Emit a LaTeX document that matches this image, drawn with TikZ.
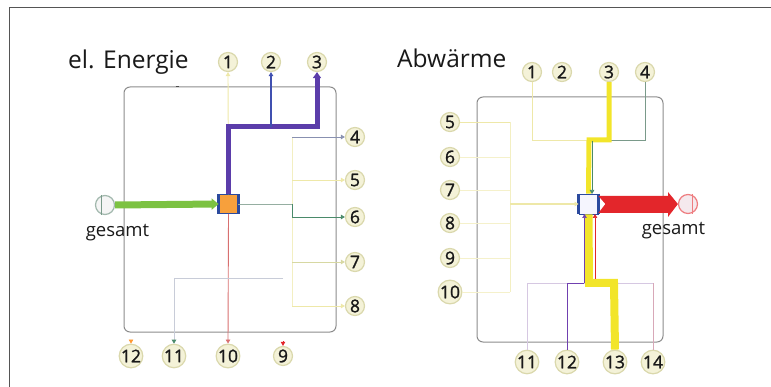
\documentclass[tikz,border=0pt]{standalone}
\usepackage{fontspec}
\setmainfont{Open Sans}
\newfontfamily\numfont[FakeBold=1.3]{Open Sans}
\usetikzlibrary{arrows.meta}

\definecolor{framegrey}{HTML}{555555}
\definecolor{boxgrey}{HTML}{8C8C8C}
\definecolor{circfill}{HTML}{F4F2D8}
\definecolor{circring}{HTML}{DAD8AC}
\definecolor{feedgreen}{HTML}{7CC242}
\definecolor{elpurple}{HTML}{5B3DAA}
\definecolor{elblue}{HTML}{4050B0}
\definecolor{sqorange}{HTML}{F7A03C}
\definecolor{sqblue}{HTML}{2B4A9E}
\definecolor{heatred}{HTML}{E3262B}
\definecolor{heatyellow}{HTML}{F2E52A}
\definecolor{paleyellow}{HTML}{EEE8A8}
\definecolor{greygreen}{HTML}{7A9A8A}
\definecolor{darkgreen}{HTML}{4A8A6A}
\definecolor{thinred}{HTML}{D87070}
\definecolor{lavender}{HTML}{D6C8E2}
\definecolor{pinkline}{HTML}{D8A8B8}
\definecolor{violet}{HTML}{7040B0}
\definecolor{greyblue}{HTML}{8890B0}
\definecolor{faint}{HTML}{C8CCD8}

\tikzset{
  num/.style={circle, minimum size=19pt, inner sep=0pt, fill=circfill, draw=circring,
    line width=1.2pt, font=\numfont\fontsize{17.5}{17.5}\selectfont, text=black!90},
  title/.style={font=\fontsize{24.5}{25}\selectfont, text=black!90, inner sep=0pt},
  caption/.style={font=\fontsize{18.5}{19}\selectfont, text=black!90, inner sep=0pt},
  sysbox/.style={draw=boxgrey, line width=1pt, rounded corners=6pt},
  tip/.style={-{Triangle[length=4pt,width=4.5pt]}},
  thin/.style={line width=0.9pt},
}

\begin{document}
\begin{tikzpicture}[x=1pt, y=-1pt]
\useasboundingbox (0,0) rectangle (771,387);

% page frame (top and left edges)
\draw[framegrey, line width=1.5pt] (9.5,387) -- (9.5,7.5) -- (771,7.5);

% ================= el. Energie =================
\node[title, anchor=base west] at (68,69) {el. Energie};
\draw[sysbox] (124,87) rectangle (336,332);
\draw[black!70, line width=1pt] (175.5,87) -- (178.5,87);

% central converter
\node[draw=sqblue, line width=0.8pt, fill=sqorange, minimum size=19pt, inner sep=0pt] (sqA) at (228.5,204) {};
\draw[sqblue, line width=3pt] (sqA.north west) -- (sqA.south west);
\draw[sqblue, line width=3pt] (sqA.north east) -- (sqA.south east);

% labels
\node[num] (a1) at (228,62) {1};
\node[num] (a2) at (271,62) {2};
\node[num] (a3) at (317,62) {3};
\node[num] (a4) at (355,137) {4};
\node[num] (a5) at (355,180) {5};
\node[num] (a6) at (355,217) {6};
\node[num] (a7) at (355,262) {7};
\node[num] (a8) at (355,306) {8};
\node[num] (a12) at (131,356) {12};
\node[num] (a11) at (174,356) {11};
\node[num] (a10) at (228,356) {10};
\node[num] (a9) at (283,356) {9};

% supply "gesamt"
\node[circle, minimum size=19pt, inner sep=0pt, fill=black!4, draw=greygreen!70, line width=1.2pt] (inA) at (105,205) {};
\draw[greygreen, line width=0.8pt] ([xshift=-4pt]inA.north) -- ([xshift=-4pt]inA.south);
\node[caption, anchor=base] at (117.5,237) {gesamt};
\draw[feedgreen, line width=7pt, -{Triangle[length=7pt,width=11pt]}] (inA.east) -- (sqA.west);

% outputs upwards
\draw[paleyellow, thin, tip] (sqA.north) -- (a1.south);
\draw[elpurple, line width=5pt, line join=miter, -{Triangle[length=6pt,width=8pt]}]
  (sqA.north) -- (228.5,127) -- (317,127) -- (a3.south);
\draw[elblue, line width=1.5pt, tip] (271,127) -- (a2.south);

% outputs to the right
\coordinate (brA) at (292,204);
\draw[paleyellow!70, thin] (292,137) -- (292,306);
\draw[greygreen!80, thin] (sqA.east) -- (brA);
\draw[darkgreen, thin, tip] (brA) -- (292,217) -- (a6.west);
\draw[greyblue, thin, tip] (292,137) -- (a4.west);
\draw[paleyellow, thin, tip] (292,180) -- (a5.west);
\draw[paleyellow!80!greygreen, thin, tip] (292,262) -- (a7.west);
\draw[paleyellow, thin, tip] (292,306) -- (a8.west);

% outputs downwards
\draw[thinred, thin, tip] (sqA.south) -- (a10.north);
\draw[faint, thin] (283,278) -- (175,278);
\draw[faint, thin, -{Triangle[length=4pt,width=4.5pt,fill=darkgreen,color=darkgreen]}] (174,278) -- (a11.north);
\coordinate (t12) at (131,341);
\coordinate (t9) at (283,341);
\draw[orange!80, line width=0.5pt, tip] (t12) -- (a12.north);
\draw[heatred, line width=0.5pt, tip] (t9) -- (a9.north);

% ================= Abwärme =================
\node[title, anchor=base west] at (397,68) {Abwärme};
\draw[sysbox] (477,97) rectangle (663,342);

\node[draw=sqblue, line width=0.8pt, fill=black!10!blue!4, minimum width=19pt, minimum height=20pt, inner sep=0pt] (sqB) at (588.5,204) {};
\draw[sqblue, line width=3pt] (sqB.north west) -- (sqB.south west);
\draw[sqblue, line width=3pt] (sqB.north east) -- (sqB.south east);

\node[num] (b1) at (532,72) {1};
\node[num] (b2) at (562,72) {2};
\node[num] (b3) at (609,72) {3};
\node[num] (b4) at (645,72) {4};
\node[num] (b5) at (450,122) {5};
\node[num] (b6) at (450,157) {6};
\node[num] (b7) at (450,190) {7};
\node[num] (b8) at (450,223) {8};
\node[num] (b9) at (450,258) {9};
\node[num] (b10) at (450,292) {10};
\node[num] (b11) at (527,362) {11};
\node[num] (b12) at (567,362) {12};
\node[num] (b13) at (615,362) {13};
\node[num] (b14) at (653,362) {14};

% heat output "gesamt"
\node[circle, minimum size=19pt, inner sep=0pt, fill=pinkline!25, draw=heatred!60, line width=1.2pt] (outB) at (688,204) {};
\draw[heatred!60, line width=0.8pt] ([xshift=4pt]outB.north) -- ([xshift=4pt]outB.south);
\node[caption, anchor=base] at (673.5,235) {gesamt};
\fill[heatred] (sqB.east |- 0,196) -- (668,196) -- (668,192) -- (outB.west) -- (668,217)
  -- (668,213) -- (sqB.east |- 0,213) -- ([xshift=7pt]sqB.east) -- cycle;

% inputs from the top
\draw[paleyellow, thin] (b1.south) -- (532,140) -- (589,140);
\draw[greygreen, thin] (b4.south) -- (645,140) -- (609,140);
\draw[heatyellow, line width=5pt, line join=miter] (b3.south) -- (609,140) -- (589,140) -- (sqB.north);
\draw[darkgreen, line width=0.6pt, tip] (592,141) -- (592,194);

% inputs from the left
\coordinate (brB) at (510,204);
\draw[paleyellow!70, thin] (510,122) -- (510,292);
\draw[paleyellow, thin] (b5.east) -- (510,122);
\foreach \n/\y in {6/157,7/190,8/223,9/258,10/292}
  \draw[paleyellow!60, thin] (b\n.east) -- (510,\y);
\draw[paleyellow, line width=1.2pt, tip] (brB) -- (sqB.west);

% inputs from below
\draw[lavender, thin] (b11.north) -- (527,283) -- (653,283);
\draw[pinkline, thin] (b14.north) -- (653,283);
\draw[violet, thin] (b12.north) -- (567,283) -- (584,283);
\draw[heatyellow, line width=8pt, line join=miter] (b13.north) -- (614,283) -- (589,283) -- (sqB.south);
\draw[violet, line width=0.6pt, tip] (584.5,283) -- (584.5,214);
\draw[heatred, line width=0.6pt, tip] (595,279) -- (595,214);
\end{tikzpicture}
\end{document}
